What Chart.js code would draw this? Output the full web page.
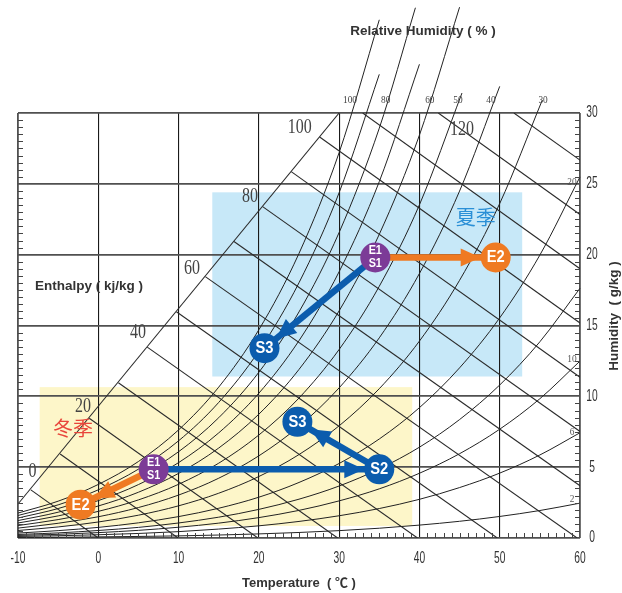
<!DOCTYPE html>
<html>
<head>
<meta charset="utf-8">
<script src="https://cdn.jsdelivr.net/npm/chart.js@4"></script>
<style>
  html, body { margin: 0; padding: 0; background: #fff; }
</style>
</head>
<body>
<canvas id="psyChart" width="622" height="593"></canvas>
<script>
// dry bulb temperatures (°C) used along the RH curves
const rhTemps = [-10, -5, 0, 5, 10, 15, 20, 25, 30, 35, 40, 45, 50, 55, 60];
// humidity ratio (g/kg) on each curve, last value sits at rhEndTemps
const rh100 = [1.76, 2.60, 3.78, 5.40, 7.63, 10.65, 14.70, 20.09, 27.21, 36.58];
const rh90 = [1.59, 2.34, 3.40, 4.86, 6.86, 9.57, 13.20, 18.02, 24.38, 32.73];
const rh80 = [1.41, 2.08, 3.02, 4.32, 6.09, 8.49, 11.70, 15.96, 21.57, 28.93, 37.43];
const rh70 = [1.23, 1.82, 2.64, 3.77, 5.32, 7.42, 10.22, 13.93, 18.80, 25.16, 33.44];
const rh60 = [1.06, 1.56, 2.26, 3.23, 4.56, 6.35, 8.74, 11.90, 16.04, 21.44, 28.44, 37.47];
const rh50 = [0.88, 1.30, 1.88, 2.69, 3.79, 5.28, 7.27, 9.88, 13.31, 17.77, 23.52, 31.41];
const rh40 = [0.70, 1.04, 1.50, 2.15, 3.03, 4.22, 5.80, 7.88, 10.60, 14.13, 18.67, 24.49, 31.88];
const rh30 = [0.53, 0.78, 1.13, 1.61, 2.27, 3.16, 4.34, 5.89, 7.92, 10.54, 13.90, 18.19, 23.61, 30.91];
const rh20 = [0.35, 0.52, 0.75, 1.07, 1.51, 2.10, 2.88, 3.92, 5.26, 6.99, 9.20, 12.01, 15.54, 19.97, 25.49];
const rh14 = [0.25, 0.36, 0.53, 0.75, 1.06, 1.47, 2.02, 2.74, 3.67, 4.88, 6.41, 8.36, 10.80, 13.85, 17.63];
const rh10 = [0.18, 0.26, 0.38, 0.54, 0.76, 1.05, 1.44, 1.95, 2.62, 3.47, 4.57, 5.95, 7.68, 9.83, 12.49];
const rh6 = [0.11, 0.16, 0.23, 0.32, 0.45, 0.63, 0.86, 1.17, 1.57, 2.08, 2.73, 3.56, 4.58, 5.86, 7.43];
const rh2 = [0.04, 0.05, 0.08, 0.11, 0.15, 0.21, 0.29, 0.39, 0.52, 0.69, 0.91, 1.18, 1.52, 1.94, 2.46];
const rhSeries = [rh100, rh90, rh80, rh70, rh60, rh50, rh40, rh30, rh20, rh14, rh10, rh6, rh2];
const rhEndTemps = [35, 35, 39.5, 40, 45, 45.3, 50, 55.3, 60, 60, 60, 60, 60];

// RH labels (top row and right edge)
const rhTopLabels = ['100', '80', '60', '50', '40', '30'];
const rhTopLabelT = [31.35, 35.8, 41.3, 44.8, 48.9, 55.4];
const rhRightLabels = ['20', '10', '6', '2'];
const rhRightLabelW = [25.1, 12.6, 7.5, 2.75];

// enthalpy lines (kJ/kg): start on the oblique scale, end on the frame
const enthalpy = [0, 10, 20, 30, 40, 50, 60, 70, 80, 90, 100, 110, 120, 130];
const hStartT = [-8.4, -4.75, -1.13, 2.5, 6.1, 9.73, 13.33, 16.9, 20.47, 24.03, 27.57, 32.93, 42.35, 51.77];
const hStartW = [3.40, 5.93, 8.45, 10.96, 13.47, 15.97, 18.45, 20.93, 23.39, 25.86, 28.31, 30, 30, 30];
const hEndT = [0, 9.94, 19.88, 29.82, 39.76, 49.7, 59.64, 60, 60, 60, 60, 60, 60, 60];
const hEndW = [0, 0, 0, 0, 0, 0, 0, 3.69, 7.52, 11.35, 15.18, 19.01, 22.84, 26.67];
const scaleLineT = [-10, 30];
const scaleLineW = [2.4, 30];
const hLabels = ['0', '20', '40', '60', '80', '100', '120'];
const hLabelT = [-8.2, -1.9, 4.95, 11.67, 18.9, 25.1, 45.3];
const hLabelW = [4.69, 9.24, 14.47, 18.98, 24.1, 28.93, 28.8];

// air states
const summerNames = ['E1/S1', 'E2', 'S3'];
const summerT = [34.5, 49.5, 20.7];
const summerW = [19.8, 19.8, 13.4];
const summerArrows = [[0, 1], [0, 2]];
const winterNames = ['E1/S1', 'S2', 'S3', 'E2'];
const winterT = [6.9, 35.0, 24.8, -2.2];
const winterW = [4.85, 4.85, 8.2, 2.35];
const winterArrows = [[0, 1], [1, 2], [0, 3]];

// season areas [tMin, tMax, wMin, wMax]
const summerBox = [14.2, 52.8, 11.4, 24.4];
const winterBox = [-7.3, 39.1, 0.85, 10.65];

const PURPLE = '#7c3b97';
const ORANGE = '#ef7a22';
const BLUE = '#0b5cad';
const R = 15;

function stateColor(name) {
    if (name.indexOf('/') > 0) return PURPLE;
    return name[0] === 'E' ? ORANGE : BLUE;
}

const datasets = [];

rhSeries.forEach((ws, i) => {
    datasets.push({
        data: ws.map((w, j) => ({ x: j === ws.length - 1 ? rhEndTemps[i] : rhTemps[j], y: w })),
        borderColor: '#222',
        borderWidth: 1,
        pointRadius: 0,
        cubicInterpolationMode: 'monotone',
        clip: false,
        order: 10
    });
});

enthalpy.forEach((h, i) => {
    datasets.push({
        data: [{ x: hStartT[i], y: hStartW[i] }, { x: hEndT[i], y: hEndW[i] }],
        borderColor: '#2b2b2b',
        borderWidth: 1.1,
        pointRadius: 0,
        order: 10
    });
});

datasets.push({
    data: scaleLineT.map((t, i) => ({ x: t, y: scaleLineW[i] })),
    borderColor: '#2b2b2b',
    borderWidth: 1.1,
    pointRadius: 0,
    order: 10
});

function addStates(names, ts, ws, arrows) {
    arrows.forEach(([a, b]) => {
        datasets.push({
            data: [{ x: ts[a], y: ws[a] }, { x: ts[b], y: ws[b] }],
            borderColor: names[b][0] === 'E' ? ORANGE : BLUE,
            borderWidth: 6.5,
            pointRadius: 0,
            order: 3
        });
    });
    datasets.push({
        data: ts.map((t, i) => ({ x: t, y: ws[i] })),
        showLine: false,
        pointRadius: R,
        pointBorderWidth: 0,
        pointBackgroundColor: names.map(stateColor),
        order: 1
    });
}
addStates(summerNames, summerT, summerW, summerArrows);
addStates(winterNames, winterT, winterW, winterArrows);

function narrowText(ctx, text, px, py, font, sx, color, align) {
    ctx.save();
    ctx.translate(px, py);
    ctx.scale(sx, 1);
    ctx.font = font;
    ctx.fillStyle = color;
    ctx.textAlign = align || 'center';
    ctx.textBaseline = 'middle';
    ctx.fillText(text, 0, 0);
    ctx.restore();
}

const psyDecor = {
    id: 'psyDecor',
    beforeDraw(chart) {
        const { ctx, scales: { x, y } } = chart;
        ctx.save();
        [[summerBox, '#c7e8f8'], [winterBox, '#fdf6c9']].forEach(([b, c]) => {
            const x0 = x.getPixelForValue(b[0]), x1 = x.getPixelForValue(b[1]);
            const y0 = y.getPixelForValue(b[3]), y1 = y.getPixelForValue(b[2]);
            ctx.fillStyle = c;
            ctx.fillRect(x0, y0, x1 - x0, y1 - y0);
        });
        ctx.restore();
    },
    afterDatasetsDraw(chart) {
        const { ctx, scales: { x, y } } = chart;
        const heads = (names, ts, ws, arrows) => {
            arrows.forEach(([a, b]) => {
                const x0 = x.getPixelForValue(ts[a]), y0 = y.getPixelForValue(ws[a]);
                const x1 = x.getPixelForValue(ts[b]), y1 = y.getPixelForValue(ws[b]);
                const len = Math.hypot(x1 - x0, y1 - y0);
                const ux = (x1 - x0) / len, uy = (y1 - y0) / len;
                const tx = x1 - ux * R, ty = y1 - uy * R;
                const bx = tx - ux * 20, by = ty - uy * 20;
                ctx.beginPath();
                ctx.moveTo(tx, ty);
                ctx.lineTo(bx - uy * 9, by + ux * 9);
                ctx.lineTo(bx + uy * 9, by - ux * 9);
                ctx.closePath();
                ctx.fillStyle = names[b][0] === 'E' ? ORANGE : BLUE;
                ctx.fill();
            });
            names.forEach((n, i) => {
                const px = x.getPixelForValue(ts[i]), py = y.getPixelForValue(ws[i]);
                if (n.indexOf('/') > 0) {
                    const [l1, l2] = n.split('/');
                    narrowText(ctx, l1, px, py - 6.5, 'bold 12px "Liberation Sans"', 0.9, '#fff');
                    narrowText(ctx, l2, px, py + 6.5, 'bold 12px "Liberation Sans"', 0.9, '#fff');
                } else {
                    narrowText(ctx, n, px, py + 0.5, 'bold 16px "Liberation Sans"', 0.92, '#fff');
                }
            });
        };
        ctx.save();
        heads(summerNames, summerT, summerW, summerArrows);
        heads(winterNames, winterT, winterW, winterArrows);
        ctx.restore();
    },
    afterDraw(chart) {
        const { ctx, chartArea: a, scales: { x, y } } = chart;
        ctx.save();
        // minor ticks inside the frame
        ctx.strokeStyle = '#444';
        ctx.lineWidth = 1;
        ctx.beginPath();
        for (let v = 0.5; v < 30; v += 0.5) {
            if (v % 5 === 0) continue;
            const py = Math.round(y.getPixelForValue(v)) + 0.5;
            ctx.moveTo(a.left, py); ctx.lineTo(a.left + 5, py);
            ctx.moveTo(a.right, py); ctx.lineTo(a.right - 5, py);
        }
        for (let v = -9; v < 60; v++) {
            if (v % 10 === 0) continue;
            const px = Math.round(x.getPixelForValue(v)) + 0.5;
            ctx.moveTo(px, a.bottom); ctx.lineTo(px, a.bottom - 5);
        }
        ctx.stroke();

        // tick labels
        x.ticks.forEach(t => narrowText(ctx, String(t.value), x.getPixelForValue(t.value), a.bottom + 21,
            '16px "Liberation Sans"', 0.64, '#333'));
        y.ticks.forEach(t => narrowText(ctx, String(t.value), a.right + 12, y.getPixelForValue(t.value),
            '16px "Liberation Sans"', 0.64, '#333'));

        // enthalpy labels
        hLabels.forEach((s, i) => narrowText(ctx, s, x.getPixelForValue(hLabelT[i]), y.getPixelForValue(hLabelW[i]),
            '20px "Liberation Serif"', 0.8, '#444'));
        // RH labels
        rhTopLabels.forEach((s, i) => narrowText(ctx, s, x.getPixelForValue(rhTopLabelT[i]), y.getPixelForValue(30.9),
            '11px "Liberation Serif"', 0.85, '#444'));
        rhRightLabels.forEach((s, i) => narrowText(ctx, s, x.getPixelForValue(59.0), y.getPixelForValue(rhRightLabelW[i]),
            '11px "Liberation Serif"', 0.85, '#555'));

        // season names
        ctx.font = '20px "Noto Sans CJK SC"';
        ctx.textAlign = 'center';
        ctx.textBaseline = 'middle';
        ctx.fillStyle = '#2a8fd6';
        ctx.fillText('夏季', x.getPixelForValue(47.0), y.getPixelForValue(22.6));
        ctx.fillStyle = '#e8453b';
        ctx.fillText('冬季', x.getPixelForValue(-3.15), y.getPixelForValue(7.75));

        // axis captions
        ctx.font = 'bold 13.5px "Liberation Sans", "Noto Sans CJK SC"';
        ctx.fillStyle = '#333';
        ctx.fillText('Relative Humidity ( % )', 423, 31);
        ctx.fillText('Enthalpy ( kj/kg )', 89, 286);
        ctx.translate(614, 316);
        ctx.rotate(-Math.PI / 2);
        ctx.fillText('Humidity  ( g/kg )', 0, 0);
        ctx.restore();
    }
};

new Chart(document.getElementById('psyChart').getContext('2d'), {
    type: 'line',
    data: { datasets },
    options: {
        responsive: false,
        animation: false,
        devicePixelRatio: 1,
        events: [],
        layout: { padding: { left: 18, top: 113, right: 0, bottom: 0 } },
        plugins: { legend: { display: false }, tooltip: { enabled: false } },
        scales: {
            x: {
                type: 'linear',
                min: -10,
                max: 60,
                ticks: { stepSize: 10, display: false },
                grid: {
                    drawTicks: false,
                    color: c => (c.tick.value === -10 || c.tick.value === 60) ? '#505050' : '#1a1a1a',
                    lineWidth: c => (c.tick.value === -10 || c.tick.value === 60) ? 1.8 : 1.1
                },
                border: { display: false },
                title: {
                    display: true,
                    text: 'Temperature  ( ℃ )',
                    color: '#333',
                    font: { family: '"Liberation Sans", "Noto Sans CJK SC"', size: 13, weight: 'bold' },
                    padding: { top: 0, bottom: 2 }
                },
                afterFit: s => { s.height = 55; }
            },
            y: {
                type: 'linear',
                position: 'right',
                min: 0,
                max: 30,
                ticks: { stepSize: 5, display: false },
                grid: { drawTicks: false, color: '#505050', lineWidth: 1.8 },
                border: { display: false },
                afterFit: s => { s.width = 42; }
            }
        }
    },
    plugins: [psyDecor]
});
</script>
</body>
</html>
